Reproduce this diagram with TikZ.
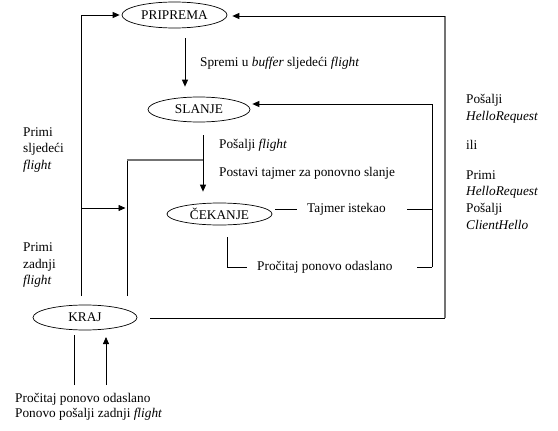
\documentclass[tikz,border=0pt]{standalone}
\usepackage{fontspec}
\setmainfont{Liberation Serif}
\usetikzlibrary{shapes.geometric,arrows.meta}
\newcommand\dfont{\fontsize{13.3}{16.5}\selectfont}
\begin{document}
\begin{tikzpicture}[x=1pt,y=-1pt,
  st/.style={ellipse,draw,line width=0.7pt,inner sep=0pt,minimum width=104pt,minimum height=25pt,font=\dfont},
  ln/.style={line width=0.8pt},
  arr/.style={ln,-{Triangle[length=7pt,width=6pt]}},
  gl/.style={line width=1.1pt,draw=black!55},
  lbl/.style={inner sep=0pt,anchor=west,font=\dfont,align=left}
]
\fill[white] (0,0) rectangle (558,431);
\useasboundingbox (0,0) rectangle (558,431);

% states
\node[st,minimum width=105pt,minimum height=26pt] (prip) at (174.5,15) {PRIPREMA};
\node[st,minimum width=102pt] (slan) at (199,109.5) {SLANJE};
\node[st,minimum width=105pt,minimum height=22pt] (cek) at (219.5,214) {ČEKANJE};
\node[st] (kraj) at (85,317.5) {KRAJ};

% left loop
\coordinate (a1) at (81,296);
\coordinate (a2) at (81,15);
\draw[arr,shorten >=2pt] (a1) -- (a2) -- (prip.west);
\coordinate (b1) at (127,296);
\coordinate (b2) at (127,160);
\coordinate (b3) at (203,160);
\draw[ln] (b1) -- (b2);
\draw[gl] (b2) -- (b3);
\coordinate (c1) at (81,208);
\draw[arr,shorten >=1.5pt] (c1) -- (c1 -| b1);

% prip -> slan
\coordinate (d1) at (185,38);
\draw[arr,shorten >=10pt] (d1) -- (d1 |- slan.north);
% slan -> cek
\coordinate (e1) at (203,135);
\draw[arr,shorten >=11pt] (e1) -- (e1 |- cek.north);

% right loop to slan
\coordinate (f1) at (432,267);
\coordinate (f2) at (432,104);
\draw[arr,shorten >=2pt] (f1) -- (f2) -- (f2 -| slan.east);
\coordinate (g1) at (275,209);
\coordinate (g2) at (297,209);
\coordinate (g3) at (407,209);
\draw[ln] (g1) -- (g2);
\draw[ln] (g3) -- (g3 -| f1);
\node[lbl] (tj) at (307,209) {Tajmer istekao};
\coordinate (p1) at (227,237);
\coordinate (p2) at (227,267);
\coordinate (p3) at (247,267);
\coordinate (p4) at (417,267);
\draw[ln] (p1) -- (p2) -- (p3);
\draw[ln] (p4) -- (f1);
\node[lbl] (pr) at (257,267) {Pročitaj ponovo odaslano};

% big loop
\coordinate (h1) at (150,318);
\coordinate (h2) at (445,318);
\coordinate (h3) at (445,16);
\draw[ln] (h1) -- (h2);
\draw[gl] (h2) -- (h3);
\draw[arr,shorten >=5pt] (h3) -- (h3 -| prip.east);

% below kraj
\coordinate (k1) at (74,385);
\coordinate (k2) at (74,335);
\coordinate (k3) at (106,385);
\coordinate (k4) at (106,337);
\draw[ln] (k1) -- (k2);
\draw[arr] (k3) -- (k4);

% labels
\node[lbl] (t1) at (200,63) {Spremi u \textit{buffer} sljedeći \textit{flight}};
\node[lbl] (t2) at (219,145) {Pošalji \textit{flight}};
\node[lbl] (t3) at (219,173) {Postavi tajmer za ponovno slanje};
\node[lbl] (t4) at (23,150) {Primi\\sljedeći\\\textit{flight}};
\node[lbl] (t5) at (23,265.5) {Primi\\zadnji\\\textit{flight}};
\node[lbl,font=\fontsize{13.3}{17.5}\selectfont] (t6) at (466,109) {Pošalji\\\textit{HelloRequest}};
\node[lbl] (t7) at (466,145) {ili};
\node[lbl,font=\fontsize{13.3}{16.7}\selectfont] (t8) at (466,200) {Primi\\\textit{HelloRequest}\\Pošalji\\\textit{ClientHello}};
\node[lbl,font=\fontsize{13.3}{15}\selectfont] (t9) at (15,406.5) {Pročitaj ponovo odaslano\\Ponovo pošalji zadnji \textit{flight}};
\end{tikzpicture}
\end{document}
